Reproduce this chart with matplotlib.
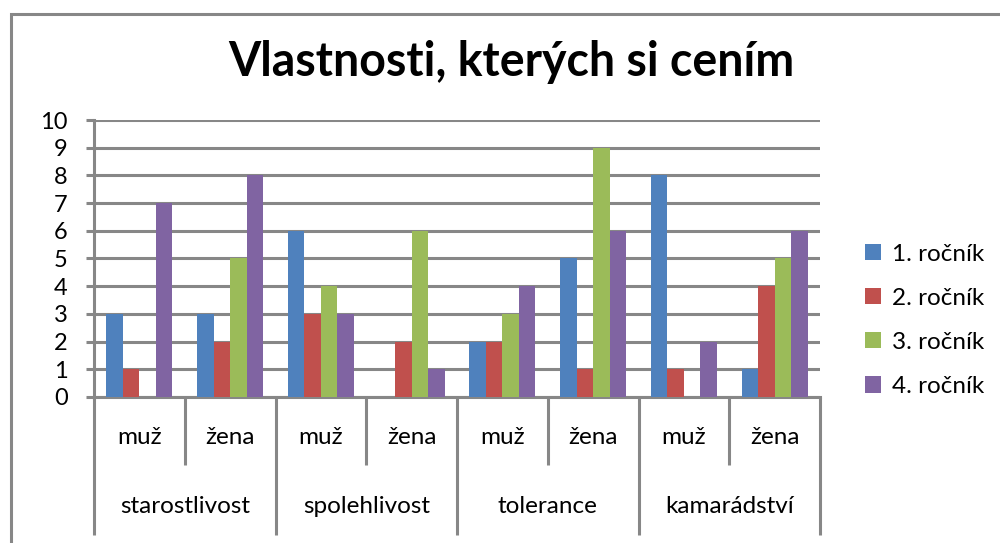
import matplotlib
matplotlib.use('Agg')
import matplotlib.pyplot as plt
import numpy as np
from matplotlib.patches import Rectangle

plt.rcParams['font.family'] = ['Lato', 'DejaVu Sans']

groups = ['starostlivost', 'spolehlivost', 'tolerance', 'kamarádství']
genders = ['muž', 'žena']
series_names = ['1. ročník', '2. ročník', '3. ročník', '4. ročník']
colors = ['#4F81BD', '#C0504D', '#9BBB59', '#8064A2']

# values per subcategory (starostlivost muž, starostlivost žena, ...)
rocnik1 = [3, 3, 6, 0, 2, 5, 8, 1]
rocnik2 = [1, 2, 3, 2, 2, 1, 1, 4]
rocnik3 = [0, 5, 4, 6, 3, 9, 0, 5]
rocnik4 = [7, 8, 3, 1, 4, 6, 2, 6]
series = [rocnik1, rocnik2, rocnik3, rocnik4]

grid_col = '#878787'

fig = plt.figure(figsize=(10, 5.43), dpi=100)
ax = fig.add_axes([0.094, 0.269, 0.726, 0.510])

n = len(rocnik1)
x = np.arange(n)
w = 1 / (len(series) + 1.5)
for i, (vals, c, name) in enumerate(zip(series, colors, series_names)):
    offs = (i - (len(series) - 1) / 2) * w
    ax.bar(x + offs, vals, width=w, color=c, linewidth=0, label=name, zorder=3)

ax.set_xlim(-0.5, n - 0.5)
ax.set_ylim(0, 10)
ax.set_yticks(range(0, 11))
ax.tick_params(axis='y', labelsize=17, length=6, width=2.2, color=grid_col, pad=13)
ax.tick_params(axis='x', bottom=False, labelbottom=False)
ax.grid(axis='y', color=grid_col, linewidth=2.2, zorder=0)
for s in ['top', 'right']:
    ax.spines[s].set_visible(False)
for s in ['left', 'bottom']:
    ax.spines[s].set_color(grid_col)
    ax.spines[s].set_linewidth(2.2)

# two-level category axis
tr = ax.get_xaxis_transform()
for b in np.arange(-0.5, n, 2):
    ax.plot([b, b], [0, -0.5], transform=tr, color=grid_col, lw=2.2, clip_on=False,
            solid_capstyle='butt')
for b in np.arange(0.5, n, 2):
    ax.plot([b, b], [0, -0.245], transform=tr, color=grid_col, lw=2.2, clip_on=False,
            solid_capstyle='butt')
for i in range(n):
    ax.text(i, -0.145, genders[i % 2], transform=tr, ha='center', va='center', fontsize=17.5)
for g, name in enumerate(groups):
    ax.text(2 * g + 0.5, -0.397, name, transform=tr, ha='center', va='center', fontsize=17.5)

fig.text(0.511, 0.885, 'Vlastnosti, kterých si cením', ha='center', va='center',
         fontsize=33.5, fontweight='bold')

fig.legend(loc='center left', bbox_to_anchor=(0.843, 0.41), frameon=False,
           fontsize=17.5, handlelength=0.65, handleheight=0.65, labelspacing=0.95,
           handletextpad=0.45)

fig.patches.append(Rectangle((0.011, -0.1), 1.2, 0.1 + 1 - 0.026, transform=fig.transFigure,
                             fill=False, edgecolor=grid_col, linewidth=2.2))

plt.savefig('out.png', dpi=100)
